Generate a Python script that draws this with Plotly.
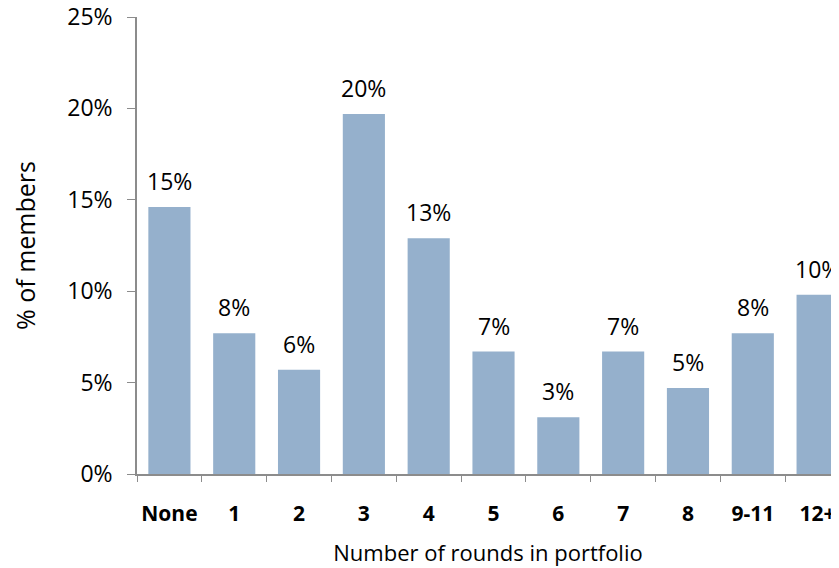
import plotly.graph_objects as go

# values (percent of members)
categories = ['None', '1', '2', '3', '4', '5', '6', '7', '8', '9-11', '12+']
pct_members = [14.6, 7.7, 5.7, 19.7, 12.9, 6.7, 3.1, 6.7, 4.7, 7.7, 9.8]
y_ticks = [0, 5, 10, 15, 20, 25]

bar_color = '#95B0CC'
axis_color = '#8C8C8C'
font_family = 'Open Sans, Lato, sans-serif'

fig = go.Figure()
fig.add_trace(go.Bar(
    x=categories, y=pct_members,
    marker=dict(color=bar_color, line=dict(width=0)),
    width=0.65,
    hoverinfo='skip'
))

# value labels above each bar
for cat, val in zip(categories, pct_members):
    fig.add_annotation(
        x=cat, y=val, text=f"{val:.0f}%", showarrow=False,
        yanchor='bottom', yshift=8,
        font=dict(size=23, color='black', family=font_family)
    )

fig.update_xaxes(
    type='category',
    range=[-0.5, 10.33],  # last bar runs to the right edge, as in the original
    automargin=False,
    tickangle=0,
    ticklabeloverflow='allow',
    showline=True, linecolor=axis_color, linewidth=1.5,
    ticks='outside', tickson='boundaries', ticklen=6, tickcolor=axis_color,
    ticklabelstandoff=20,
    tickfont=dict(size=21, color='black', family=font_family, weight='bold'),
    title=dict(text='Number of rounds in portfolio', standoff=20,
               font=dict(size=22, color='black', family=font_family)),
    showgrid=False, zeroline=False
)
fig.update_yaxes(
    range=[0, 25],
    automargin=False,
    ticklabeloverflow='allow',
    tickvals=y_ticks, ticktext=[f"{v}%" for v in y_ticks],
    showline=True, linecolor=axis_color, linewidth=1.5,
    ticks='outside', ticklen=8, tickcolor=axis_color,
    ticklabelstandoff=10,
    tickfont=dict(size=23, color='black', family=font_family),
    title=dict(text='% of members', standoff=52,
               font=dict(size=25, color='black', family=font_family)),
    showgrid=False, zeroline=False
)

# the page body adds an 8px margin, so the figure is sized to fit the window
fig.update_layout(
    width=831, height=560,
    margin=dict(l=129, r=0, t=9, b=94),
    plot_bgcolor='white', paper_bgcolor='white',
    showlegend=False, bargap=0.35
)

fig.write_html("out.html")
